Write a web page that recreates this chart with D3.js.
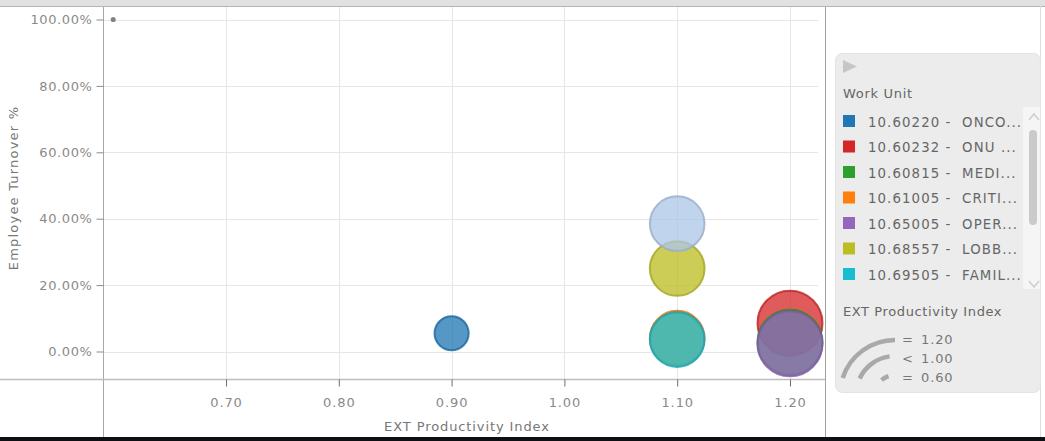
<!DOCTYPE html>
<html>
<head>
<meta charset="utf-8">
<script src="https://cdn.jsdelivr.net/npm/d3@7"></script>
<style>
  body { margin: 0; background: #fff; }
  svg text { font-family: "DejaVu Sans", Verdana, sans-serif; }
</style>
</head>
<body>
<svg id="chart" width="1045" height="441"></svg>
<script>
// DATA
var units = ["10.60220 -  ONCO...", "10.60232 -  ONU ...", "10.60815 -  MEDI...", "10.61005 -  CRITI...",
  "10.65005 -  OPER...", "10.68557 -  LOBB...", "10.69505 -  FAMIL...", "(scrolled)", "(scrolled)"];
var unitColors = ["#1f77b4", "#d62728", "#2ca02c", "#ff7f0e", "#9467bd", "#bcbd22", "#17becf", "#aec7e8", "#7f7f7f"];
var productivity = [0.90, 1.20, 1.20, 1.10, 1.20, 1.10, 1.10, 1.10, 0.60];
var turnover = [0.055, 0.085, 0.028, 0.040, 0.023, 0.250, 0.036, 0.385, 1.000];

var xTicks = [0.70, 0.80, 0.90, 1.00, 1.10, 1.20];
var yTicks = [0, 0.2, 0.4, 0.6, 0.8, 1.0];
var sizeLegend = [["=", "1.20"], ["<", "1.00"], ["=", "0.60"]];
var visibleRows = 7; // legend list is scrolled to the top

var svg = d3.select("#chart");

// frame pieces
svg.append("rect").attr("x", 0).attr("y", 0).attr("width", 1045).attr("height", 6).attr("fill", "#e1e1e1");
svg.append("line").attr("x1", 0).attr("x2", 1045).attr("y1", 6.5).attr("y2", 6.5).attr("stroke", "#b4b4b4");
svg.append("line").attr("x1", 1040.5).attr("x2", 1040.5).attr("y1", 6).attr("y2", 441).attr("stroke", "#dddddd");

// scales (plot area x 104..826, y 6..379)
var x = d3.scaleLinear().domain([0.7, 1.2]).range([226, 790]);
var y = d3.scaleLinear().domain([0, 1]).range([351.5, 19.5]);
var r = d3.scaleLinear().domain([0.6, 1.2]).range([1.6, 32.5]);

// grid
var grid = svg.append("g").attr("stroke", "#e6e6e6").attr("stroke-width", 1);
grid.selectAll(".vg").data(xTicks).enter().append("line")
  .attr("x1", function(d) { return Math.round(x(d)) + 0.5 })
  .attr("x2", function(d) { return Math.round(x(d)) + 0.5 })
  .attr("y1", 7).attr("y2", 379);
grid.selectAll(".hg").data(yTicks).enter().append("line")
  .attr("x1", 104).attr("x2", 818)
  .attr("y1", function(d) { return Math.round(y(d)) + 0.5 })
  .attr("y2", function(d) { return Math.round(y(d)) + 0.5 });

// bubbles
var bubbles = d3.range(units.length);
svg.append("g").selectAll("circle")
  .data(bubbles)
  .enter()
  .append("circle")
    .attr("cx", function(i) { return x(productivity[i]) })
    .attr("cy", function(i) { return y(turnover[i]) })
    .attr("r", function(i) { return r(productivity[i]) })
    .attr("fill", function(i) { return unitColors[i] })
    .attr("fill-opacity", 0.76)
    .attr("stroke", function(i) { return d3.color(unitColors[i]).darker(0.4) })
    .attr("stroke-opacity", 0.8)
    .attr("stroke-width", 2);

// axes lines
svg.append("line").attr("x1", 103.5).attr("x2", 103.5).attr("y1", 7).attr("y2", 441).attr("stroke", "#a8a8a8");
svg.append("line").attr("x1", 0).attr("x2", 826).attr("y1", 379.5).attr("y2", 379.5).attr("stroke", "#bdbdbd").attr("stroke-width", 1.5);
svg.append("line").attr("x1", 825.5).attr("x2", 825.5).attr("y1", 7).attr("y2", 441).attr("stroke", "#a0a0a0");

var yAxis = svg.append("g")
  .attr("transform", "translate(103.5,0)")
  .call(d3.axisLeft(y).tickValues(yTicks).tickFormat(d3.format(".2%")).tickSize(7).tickPadding(4));
yAxis.select(".domain").remove();
yAxis.selectAll("line").attr("stroke", "#8a8a8a");
yAxis.selectAll("text").attr("fill", "#8a8a8a").style("font-size", "13px").style("letter-spacing", "0.6px");

var xAxis = svg.append("g")
  .attr("transform", "translate(0,379.5)")
  .call(d3.axisBottom(x).tickValues(xTicks).tickFormat(d3.format(".2f")).tickSize(7).tickPadding(11));
xAxis.select(".domain").remove();
xAxis.selectAll("line").attr("stroke", "#6e6e6e");
xAxis.selectAll("text").attr("fill", "#8a8a8a").style("font-size", "13px").style("letter-spacing", "0.9px");

// axis titles
svg.append("text")
  .attr("x", 467).attr("y", 431)
  .attr("text-anchor", "middle")
  .attr("fill", "#777")
  .style("font-size", "13px").style("letter-spacing", "0.9px")
  .text("EXT Productivity Index");
svg.append("text")
  .attr("transform", "translate(17.5,188) rotate(-90)")
  .attr("text-anchor", "middle")
  .attr("fill", "#777")
  .style("font-size", "13px").style("letter-spacing", "1.2px")
  .text("Employee Turnover %");

// bottom bar
svg.append("rect").attr("x", 0).attr("y", 437).attr("width", 1045).attr("height", 4).attr("fill", "#0c1015");

// LEGEND
var legend = svg.append("g");
legend.append("rect")
  .attr("x", 835.5).attr("y", 53.5).attr("width", 205).attr("height", 339).attr("rx", 7)
  .attr("fill", "#ececec").attr("stroke", "#e3e3e3");
legend.append("path").attr("d", "M843,60 L857,66.5 L843,73 Z").attr("fill", "#c6c6c6");
legend.append("text").attr("x", 843).attr("y", 98).attr("fill", "#666")
  .style("font-size", "13px").style("letter-spacing", "0.7px").text("Work Unit");

// scroll track + thumb
legend.append("rect").attr("x", 1023).attr("y", 107).attr("width", 17).attr("height", 182).attr("fill", "#f5f5f5");
legend.append("rect").attr("x", 1029).attr("y", 130).attr("width", 8).attr("height", 95).attr("rx", 4).attr("fill", "#cacaca");
legend.append("path").attr("d", "M1029,120 L1034,114 L1039,120").attr("fill", "none").attr("stroke", "#cfcfcf").attr("stroke-width", 1.6);
legend.append("path").attr("d", "M1029,281 L1034,287 L1039,281").attr("fill", "none").attr("stroke", "#cfcfcf").attr("stroke-width", 1.6);

var items = legend.append("g")
  .selectAll("g").data(units.slice(0, visibleRows)).enter().append("g")
  .attr("transform", function(d, i) { return "translate(843," + (115 + i * 25.5) + ")" });
items.append("rect").attr("width", 12).attr("height", 12)
  .attr("fill", function(d, i) { return unitColors[i] });
items.append("text").attr("x", 25).attr("y", 11.5).attr("fill", "#666")
  .style("font-size", "13.3px").style("letter-spacing", "1.1px").style("white-space", "pre")
  .text(function(d) { return d });

legend.append("text").attr("x", 843).attr("y", 316).attr("fill", "#666")
  .style("font-size", "13px").style("letter-spacing", "0.6px").text("EXT Productivity Index");

// size icon
var arcs = [[55, -72, 0], [39, -65, -8], [20, -42, -19]];
legend.selectAll(".arc").data(arcs).enter().append("path")
  .attr("transform", "translate(895,395)")
  .attr("d", function(a) {
    return d3.arc()({ innerRadius: a[0], outerRadius: a[0], startAngle: a[1] * Math.PI / 180, endAngle: a[2] * Math.PI / 180 })
  })
  .attr("fill", "none").attr("stroke", "#a9a9a9").attr("stroke-width", 4.5).attr("stroke-linecap", "round");

var sizeRows = legend.selectAll(".srow").data(sizeLegend).enter().append("g")
  .attr("transform", function(d, i) { return "translate(0," + (343.5 + i * 19) + ")" });
sizeRows.append("text").attr("x", 902).attr("fill", "#777").style("font-size", "13px").text(function(d) { return d[0] });
sizeRows.append("text").attr("x", 921).attr("fill", "#777").style("font-size", "13px").style("letter-spacing", "0.9px").text(function(d) { return d[1] });
</script>
</body>
</html>
